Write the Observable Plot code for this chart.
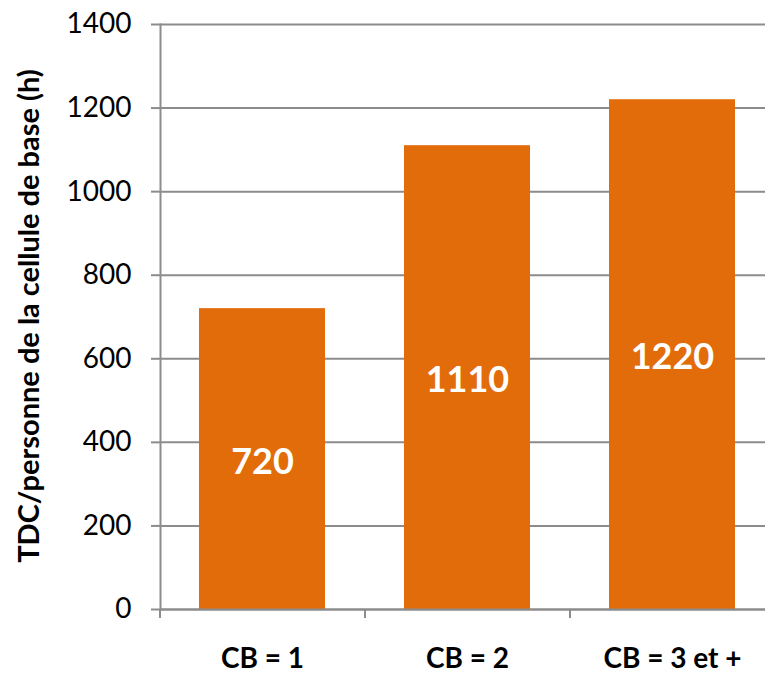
<!DOCTYPE html>
<html><head><meta charset="utf-8">
<script src="https://cdn.jsdelivr.net/npm/d3@7"></script>
<script src="https://cdn.jsdelivr.net/npm/@observablehq/plot@0.6"></script>
<style>body{margin:0;background:#fff;} svg{display:block;}</style>
</head><body><div id="chart"></div>
<script>
const categories = ["CB = 1", "CB = 2", "CB = 3 et +"];
const values = [720, 1110, 1220];
const yTicks = [0, 200, 400, 600, 800, 1000, 1200, 1400];
const yLabel = "TDC/personne de la cellule de base (h)";

const data = categories.map((c, i) => ({cat: c, v: values[i]}));
const W = 765, H = 673, ML = 160, MT = 24, MB = 64;
const xRange = [ML, 775];
const step = (xRange[1] - xRange[0]) / categories.length;
const grey = "#8c8c8c";
const orange = "#E36C0A";

const chart = Plot.plot({
  width: W, height: H,
  marginLeft: ML, marginRight: 0, marginTop: MT, marginBottom: MB,
  style: {fontFamily: "Lato, sans-serif", background: "#fff"},
  x: {domain: categories, range: xRange, paddingInner: 0.385, paddingOuter: 0.1925},
  y: {domain: [0, 1400]},
  marks: [
    Plot.ruleY(yTicks, {stroke: grey, strokeWidth: 2}),
    Plot.frame({anchor: "left", stroke: grey, strokeWidth: 2}),
    Plot.axisY({ticks: yTicks, tickSize: 9, tickPadding: 20, fontSize: 28, stroke: grey, strokeWidth: 2, strokeOpacity: 1,
      tickFormat: d => String(d), label: null, color: "#000"}),
    Plot.text([yLabel], {frameAnchor: "left", textAnchor: "middle", rotate: -90, dx: -131, dy: -1, fontSize: 29, fontWeight: "bold", fill: "#000"}),
    Plot.barY(data, {x: "cat", y: "v", fill: orange}),
    Plot.ruleY([0], {stroke: grey, strokeWidth: 2}),
    Plot.ruleX(categories, {x: d => d, dx: -step / 2, y1: 0, y2: 0, insetTop: 9, insetBottom: 0, stroke: grey, strokeWidth: 2}),
    Plot.axisX({tickSize: 0, tickPadding: 39, fontSize: 28, fontWeight: "bold", label: null, color: "#000"}),
    Plot.text(data, {x: "cat", y: d => d.v / 2, dy: 3, text: d => String(d.v), fill: "#fff", fontSize: 36, fontWeight: "bold"})
  ]
});
document.getElementById("chart").appendChild(chart);
</script></body></html>
